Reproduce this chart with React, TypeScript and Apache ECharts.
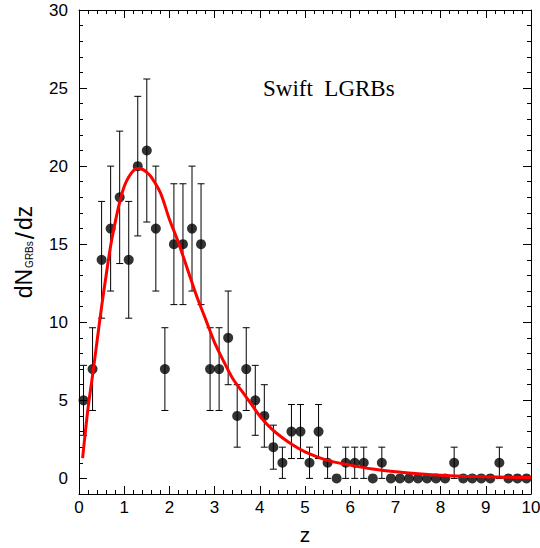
import React, { useEffect, useRef } from "react";
import * as echarts from "echarts";

const Z = [0.1, 0.3, 0.5, 0.7, 0.9, 1.1, 1.3, 1.5, 1.7, 1.9, 2.1, 2.3, 2.5, 2.7, 2.9, 3.1, 3.3, 3.5, 3.7, 3.9, 4.1, 4.3, 4.5, 4.7, 4.9, 5.1, 5.3, 5.5, 5.7, 5.9, 6.1, 6.3, 6.5, 6.7, 6.9, 7.1, 7.3, 7.5, 7.7, 7.9, 8.1, 8.3, 8.5, 8.7, 8.9, 9.1, 9.3, 9.5, 9.7, 9.9];
const COUNTS = [5, 7, 14, 16, 18, 14, 20, 21, 16, 7, 15, 15, 16, 15, 7, 7, 9, 4, 7, 5, 4, 2, 1, 3, 3, 1, 3, 1, 0, 1, 1, 1, 0, 1, 0, 0, 0, 0, 0, 0, 0, 1, 0, 0, 0, 0, 1, 0, 0, 0];
const ERRORS = [2.24, 2.65, 3.74, 4.0, 4.24, 3.74, 4.47, 4.58, 4.0, 2.65, 3.87, 3.87, 4.0, 3.87, 2.65, 2.65, 3.0, 2.0, 2.65, 2.24, 2.0, 1.41, 1.0, 1.73, 1.73, 1.0, 1.73, 1.0, 0, 1.0, 1.0, 1.0, 0, 1.0, 0, 0, 0, 0, 0, 0, 0, 1.0, 0, 0, 0, 0, 1.0, 0, 0, 0];

const CURVE_Z = [0.08, 0.2, 0.3, 0.4, 0.5, 0.6, 0.7, 0.8, 0.9, 1.0, 1.1, 1.2, 1.3, 1.4, 1.5, 1.6, 1.8, 2.0, 2.2, 2.4, 2.6, 2.8, 3.0, 3.2, 3.4, 3.6, 3.8, 4.0, 4.25, 4.5, 4.75, 5.0, 5.5, 6.0, 6.5, 7.0, 7.5, 8.0, 8.5, 9.0, 9.5, 10.0];
const CURVE_N = [1.3, 4.5, 6.6, 8.8, 11.0, 13.0, 14.9, 16.4, 17.7, 18.7, 19.3, 19.7, 19.85, 19.8, 19.6, 19.3, 18.3, 16.6, 15.1, 13.4, 11.7, 10.2, 8.7, 7.5, 6.4, 5.6, 4.8, 4.0, 3.2, 2.6, 2.1, 1.7, 1.15, 0.85, 0.6, 0.42, 0.3, 0.2, 0.14, 0.1, 0.07, 0.05];

const Y_MAJOR = [0, 5, 10, 15, 20, 25, 30];
const Y_MINOR = [-1, 1, 2, 3, 4, 6, 7, 8, 9, 11, 12, 13, 14, 16, 17, 18, 19, 21, 22, 23, 24, 26, 27, 28, 29];

const TITLE = "Swift\u00a0\u00a0LGRBs";
const SANS = "Liberation Sans, Arial, sans-serif";
const SERIF = "Liberation Serif, Times New Roman, serif";

export default function App() {
  const ref = useRef<HTMLDivElement>(null);
  useEffect(() => {
    document.body.style.margin = "0";
    const chart = echarts.init(ref.current!, null, { renderer: "svg" });

    const baseX = (pos: string, labels: boolean) => ({
      type: "value",
      min: 0,
      max: 10,
      interval: 1,
      position: pos,
      axisLine: { show: true, onZero: false, lineStyle: { color: "#000", width: 1 } },
      axisTick: { show: true, inside: true, length: 8, lineStyle: { color: "#000", width: 1 } },
      minorTick: { show: true, splitNumber: 5, length: 4, lineStyle: { color: "#000", width: 1 } },
      axisLabel: { show: labels, color: "#000", fontSize: 17, fontFamily: SANS, margin: 5 },
      splitLine: { show: false },
      minorSplitLine: { show: false },
    });

    const baseY = (pos: string, major: boolean, labels: boolean) => ({
      type: "value",
      min: -1,
      max: 30,
      position: pos,
      axisLine: { show: major, onZero: false, lineStyle: { color: "#000", width: 1 } },
      axisTick: {
        show: true,
        inside: true,
        length: major ? 8 : 4,
        customValues: major ? Y_MAJOR : Y_MINOR,
        lineStyle: { color: "#000", width: 1 },
      },
      axisLabel: {
        show: labels,
        customValues: Y_MAJOR,
        color: "#000",
        fontSize: 17,
        fontFamily: SANS,
        margin: 11,
      },
      splitLine: { show: false },
    });

    const barData = Z.map((z, i) => [z, COUNTS[i] - ERRORS[i], COUNTS[i] + ERRORS[i]]).filter(
      (_, i) => ERRORS[i] > 0
    );

    chart.setOption({
      animation: false,
      backgroundColor: "#fff",
      grid: { left: 79, right: 9, top: 10, bottom: 54, containLabel: false, outerBoundsMode: "none" },
      xAxis: [
        {
          ...baseX("bottom", true),
          name: "z",
          nameLocation: "middle",
          nameGap: 30,
          nameTextStyle: { color: "#000", fontSize: 21, fontFamily: SANS, lineHeight: 21 },
        },
        baseX("top", false),
      ],
      yAxis: [
        {
          ...baseY("left", true, true),
          name: "{a|dN}{b|GRBs}{c|/}{a|dz}",
          nameLocation: "middle",
          nameRotate: 90,
          nameGap: 36,
          nameTextStyle: {
            rich: {
              a: { fontSize: 23, fontFamily: SANS, color: "#000", lineHeight: 22, verticalAlign: "top" },
              b: {
                fontSize: 10,
                fontFamily: SANS,
                color: "#000",
                lineHeight: 12,
                padding: [11, 0, 0, 1],
                verticalAlign: "bottom",
              },
              c: { fontSize: 26, fontFamily: SANS, color: "#000", lineHeight: 22, verticalAlign: "top", padding: [0, 2, 0, 2] },
            },
          },
        },
        baseY("left", false, false),
        baseY("right", true, false),
        baseY("right", false, false),
      ],
      graphic: [
        {
          type: "text",
          left: 263,
          top: 77,
          style: { text: TITLE, fontSize: 23, fontFamily: SERIF, fill: "#000" },
        },
      ],
      series: [
        {
          type: "custom",
          xAxisIndex: 0,
          yAxisIndex: 0,
          data: barData,
          encode: { x: 0, y: [1, 2] },
          z: 2,
          renderItem: (params: any, api: any) => {
            const x = api.value(0);
            const top = api.coord([x, api.value(2)]);
            const bot = api.coord([x, api.value(1)]);
            const w = 3.5;
            const st = { stroke: "#000", lineWidth: 1 };
            return {
              type: "group",
              children: [
                { type: "line", shape: { x1: top[0], y1: top[1], x2: bot[0], y2: bot[1] }, style: st },
                { type: "line", shape: { x1: top[0] - w, y1: top[1], x2: top[0] + w, y2: top[1] }, style: st },
                { type: "line", shape: { x1: bot[0] - w, y1: bot[1], x2: bot[0] + w, y2: bot[1] }, style: st },
              ],
            };
          },
        },
        {
          type: "scatter",
          xAxisIndex: 0,
          yAxisIndex: 0,
          data: Z.map((z, i) => [z, COUNTS[i]]),
          symbol: "circle",
          symbolSize: 10,
          itemStyle: { color: "#000" },
          z: 3,
        },
        {
          type: "line",
          xAxisIndex: 0,
          yAxisIndex: 0,
          data: CURVE_Z.map((z, i) => [z, CURVE_N[i]]),
          smooth: 0.3,
          showSymbol: false,
          symbol: "none",
          lineStyle: { color: "#ff0000", width: 3 },
          z: 4,
        },
      ],
    });
    return () => chart.dispose();
  }, []);
  return <div ref={ref} style={{ width: 540, height: 548 }} />;
}
